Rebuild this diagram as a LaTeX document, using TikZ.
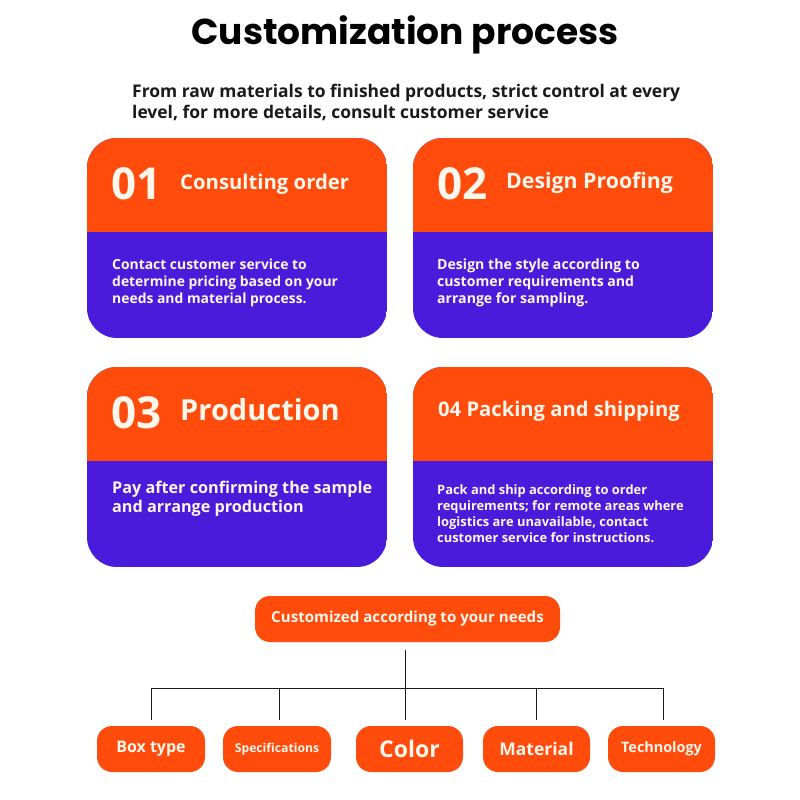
\documentclass[tikz,border=0pt]{standalone}
\usepackage{fontspec}
\setmainfont{Open Sans}
\newfontfamily\titlefont{Poppins}[BoldFont={* Bold}]
\definecolor{corange}{HTML}{FF4B0C}
\definecolor{cpurple}{HTML}{4B1BDB}
\definecolor{ctext}{HTML}{FFF6EC}
\definecolor{cdark}{HTML}{1A1A1A}
\tikzset{
  cardtext/.style={text=ctext, font=\bfseries, inner sep=0pt},
  bodytext/.style={text=ctext, font=\bfseries, inner sep=0pt, align=left, anchor=north west},
  pill/.style={fill=corange, rounded corners=15pt, text=ctext, font=\bfseries, inner sep=0pt, minimum height=46pt},
  link/.style={draw=cdark, line width=0.8pt},
}
\newcommand\mycard[2]{% x y
  \begin{scope}
    \clip[rounded corners=30pt] (#1,#2) rectangle ++(300,200);
    \fill[cpurple] (#1,#2) rectangle ++(300,200);
    \fill[corange] (#1,#2) rectangle ++(300,94);
  \end{scope}
}
\begin{document}
\begin{tikzpicture}[x=1pt,y=-1pt]
\useasboundingbox[fill=white] (0,0) rectangle (800,800);
\node[font=\titlefont\bfseries\fontsize{36}{40}\selectfont, text=black, inner sep=0pt] (title) at (405,35) {Customization process};
\node[font=\bfseries\fontsize{17.45}{21}\selectfont, text=cdark, align=left, anchor=north west, inner sep=0pt] (sub) at (132,84) {From raw materials to finished products, strict control at every\\level, for more details, consult customer service};

\mycard{87}{138}
\mycard{413}{138}
\mycard{87}{367}
\mycard{413}{367}

\node[cardtext, font=\bfseries\fontsize{44}{46}\selectfont, anchor=west] (n1) at (111,184) {01};
\node[cardtext, font=\bfseries\fontsize{20.3}{22}\selectfont, anchor=west] (h1) at (180,184) {Consulting order};
\node[bodytext, font=\bfseries\fontsize{13.9}{16.7}\selectfont] (b1) at (112,259) {Contact customer service to\\determine pricing based on your\\needs and material process.};

\node[cardtext, font=\bfseries\fontsize{44}{46}\selectfont, anchor=west] (n2) at (437,184) {02};
\node[cardtext, font=\bfseries\fontsize{21.3}{22}\selectfont, anchor=west] (h2) at (506,183) {Design Proofing};
\node[bodytext, font=\bfseries\fontsize{14.1}{16.7}\selectfont] (b2) at (437,259) {Design the style according to\\customer requirements and\\arrange for sampling.};

\node[cardtext, font=\bfseries\fontsize{44}{46}\selectfont, anchor=west] (n3) at (111,413) {03};
\node[cardtext, font=\bfseries\fontsize{29}{30}\selectfont, anchor=west] (h3) at (180,410) {Production};
\node[bodytext, font=\bfseries\fontsize{16.2}{19}\selectfont] (b3) at (112,481) {Pay after confirming the sample\\and arrange production};

\node[cardtext, font=\bfseries\fontsize{20.2}{22}\selectfont, anchor=west] (h4) at (438,411) {04 Packing and shipping};
\node[bodytext, font=\bfseries\fontsize{12.9}{16.1}\selectfont] (b4) at (437,484) {Pack and ship according to order\\requirements; for remote areas where\\logistics are unavailable, contact\\customer service for instructions.};

\node[pill, minimum width=305pt, font=\bfseries\fontsize{15.1}{17}\selectfont] (top) at (407.5,619) {Customized according to your needs};

\node[pill, minimum width=108pt, font=\bfseries\fontsize{16}{18}\selectfont] (k1) at (151,749) {Box type};
\node[pill, minimum width=108pt, font=\bfseries\fontsize{12.2}{14}\selectfont] (k2) at (277,749) {Specifications};
\node[pill, minimum width=107pt, font=\bfseries\fontsize{23}{24}\selectfont] (k3) at (409.5,749) {Color};
\node[pill, minimum width=107pt, font=\bfseries\fontsize{17.5}{18}\selectfont] (k4) at (536.5,749) {Material};
\node[pill, minimum width=107pt, font=\bfseries\fontsize{14.4}{17}\selectfont] (k5) at (661.5,749) {Technology};

\coordinate (j) at (405,688);
\coordinate (jl) at (151,688);
\coordinate (jr) at (663,688);
\draw[link, shorten <=8pt] (top.south -| j) -- (j);
\draw[link] (jl) -- (jr);
\draw[link, shorten >=6pt] (jl) -- (jl |- k1.north);
\draw[link, shorten >=6pt] (279,688) -- (279,726);
\draw[link, shorten >=6pt] (j) -- (j |- k3.north);
\draw[link, shorten >=6pt] (536,688) -- (536,726);
\draw[link, shorten >=6pt] (jr) -- (jr |- k5.north);
\end{tikzpicture}
\end{document}
